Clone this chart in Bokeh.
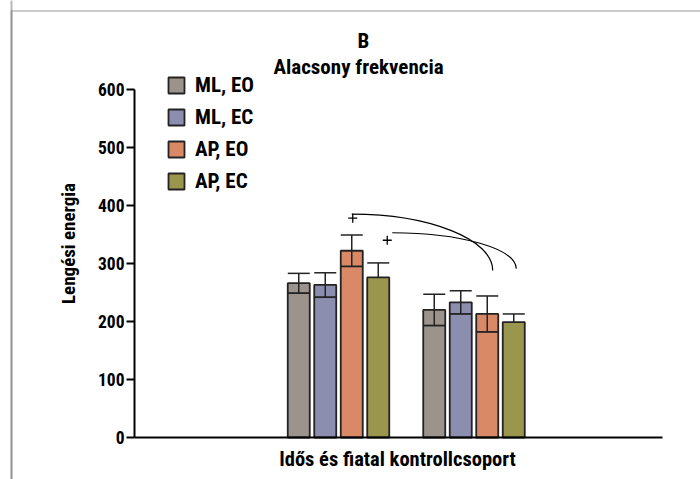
import math
from bokeh.plotting import figure
from bokeh.models import (Range1d, Label, Legend, LegendItem, FixedTicker,
                          BoxAnnotation, LinearAxis)
from bokeh.embed import file_html
from bokeh.resources import INLINE

# ---- data -------------------------------------------------------------
group_pos = [1, 2]
series_names = ["ML, EO", "ML, EC", "AP, EO", "AP, EC"]
ml_eo = [266, 220]
ml_ec = [263, 233]
ap_eo = [322, 213]
ap_ec = [276, 199]
ml_eo_err = [17, 27]
ml_ec_err = [21, 20]
ap_eo_err = [27, 31]
ap_ec_err = [25, 14]
y_ticks = [0, 100, 200, 300, 400, 500, 600]
title_letter = "B"
title_text = "Alacsony frekvencia"
x_label = "Idős és fiatal kontrollcsoport"
y_label = "Lengési energia"
sig_series = [2, 3]

means = [ml_eo, ml_ec, ap_eo, ap_ec]
errs = [ml_eo_err, ml_ec_err, ap_eo_err, ap_ec_err]

# ---- style ------------------------------------------------------------
FONT = "Roboto Condensed, DejaVu Sans Condensed, sans-serif"
colors = ["#9c948c", "#8c8eb0", "#d98966", "#9b964e"]
edge = "#232323"
show_lower = [True, True, True, False]

W, H = 700, 479
AX_LEFT, AX_RIGHT, AX_TOP, AX_BOTTOM = 134, 662, 89, 437
PX_PER_GROUP = 135.5
PX_PER_UNIT = (AX_BOTTOM - AX_TOP) / 600.0
pitch = 26.5 / PX_PER_GROUP
bar_w = 22 / PX_PER_GROUP
offsets = [(i - 1.5) * pitch for i in range(4)]


def xd(px):
    return 1 + (px - 338) / PX_PER_GROUP


def yd(py):
    return (AX_BOTTOM - py) / PX_PER_UNIT


x_per_px = 1 / PX_PER_GROUP
y_per_px = 1 / PX_PER_UNIT

p = figure(width=W, height=H, x_range=Range1d(xd(0), xd(W)),
           y_range=Range1d(yd(H), yd(0)),
           output_backend="svg", toolbar_location=None,
           x_axis_location=None, y_axis_location=None,
           min_border=0)
p.outline_line_color = None
p.grid.visible = False
p.background_fill_color = "white"
p.border_fill_color = "white"

yax = LinearAxis(fixed_location=xd(AX_LEFT), bounds=(0, 600),
                 ticker=FixedTicker(ticks=y_ticks))
yax.axis_line_width = 2
yax.axis_line_color = "black"
yax.major_tick_line_width = 2
yax.major_tick_out = 8
yax.major_tick_in = 0
yax.minor_tick_line_color = None
yax.major_label_standoff = 2
yax.major_label_text_font = FONT
yax.major_label_text_font_style = "bold"
yax.major_label_text_font_size = "17.5px"
yax.major_label_text_color = "black"
p.add_layout(yax, "left")

xax = LinearAxis(fixed_location=0, bounds=(xd(AX_LEFT), xd(AX_RIGHT)),
                 ticker=FixedTicker(ticks=[]))
xax.axis_line_width = 2
xax.axis_line_color = "black"
xax.major_tick_line_color = None
xax.minor_tick_line_color = None
xax.major_label_text_font_size = "0px"
p.add_layout(xax, "below")

# bars
items = []
for i, name in enumerate(series_names):
    xs = [g + offsets[i] for g in group_pos]
    r = p.vbar(x=xs, top=means[i], width=bar_w, bottom=0,
               fill_color=colors[i], line_color=edge, line_width=1.8)
    items.append(LegendItem(label=name, renderers=[r]))

# error bars
for i in range(4):
    xs = [g + offsets[i] for g in group_pos]
    ups = [m + e for m, e in zip(means[i], errs[i])]
    lows = [m - e if show_lower[i] else m for m, e in zip(means[i], errs[i])]
    p.segment(x0=xs, y0=lows, x1=xs, y1=ups, line_color=edge, line_width=1.5)
    p.segment(x0=[x - bar_w / 2 for x in xs], y0=ups,
              x1=[x + bar_w / 2 for x in xs], y1=ups,
              line_color=edge, line_width=1.5)
    if show_lower[i]:
        p.segment(x0=[x - bar_w / 2 for x in xs], y0=lows,
                  x1=[x + bar_w / 2 for x in xs], y1=lows,
                  line_color=edge, line_width=1.8)

# significance arcs between the groups (quarter ellipses) with "+" marks
start_dx_px = [0, 14]
start_rise = [36, 52]
end_dx_px = [5.5, 2.5]
end_rise = [44, 78]
mark_dx_px = [1, -5]
mark_dy_px = [-4, -7.5]
k = 0.5523
mark_x, mark_y = [], []
for j, s in enumerate(sig_series):
    xs0 = group_pos[0] + offsets[s] + start_dx_px[j] * x_per_px
    ys0 = means[s][0] + errs[s][0] + start_rise[j]
    xe = group_pos[1] + offsets[s] + end_dx_px[j] * x_per_px
    ye = means[s][1] + errs[s][1] + end_rise[j]
    rx, ry = xe - xs0, ys0 - ye
    p.bezier(x0=[xs0], y0=[ys0], x1=[xe], y1=[ye],
             cx0=[xs0 + k * rx], cy0=[ys0], cx1=[xe], cy1=[ye + k * ry],
             line_color="black", line_width=1.2)
    mark_x.append(xs0 + mark_dx_px[j] * x_per_px)
    mark_y.append(ys0 + mark_dy_px[j] * y_per_px)
p.scatter(x=mark_x, y=mark_y, marker="cross", size=9,
          line_color="black", line_width=1.3)

# legend
legend = Legend(items=items, location=(166, H - 192.5),
                glyph_width=20, glyph_height=20, label_height=20,
                spacing=8, padding=0, margin=0, label_standoff=9,
                border_line_color=None, background_fill_alpha=0,
                label_text_font=FONT, label_text_font_style="bold",
                label_text_font_size="21px", label_text_color="black")
p.add_layout(legend)


def add_label(txt, x, y, size, angle=0):
    # x, y: visual centre of the text in canvas pixels
    p.add_layout(Label(x=x, y=y, x_units="canvas", y_units="canvas",
                       text=txt, text_align="center", text_baseline="middle",
                       angle=angle, text_font=FONT, text_font_style="bold",
                       text_font_size=size, text_color="black"))


add_label(title_letter, 363, 40, "21px")
add_label(title_text, 358, 66, "21px")
add_label(x_label, 397, 458, "20.5px")
add_label(y_label, 68, 243, "19px", angle=math.pi / 2)

# surrounding frame lines
p.add_layout(BoxAnnotation(left=xd(11), right=xd(W + 20), top=yd(10.5), bottom=yd(H + 20),
                           fill_alpha=0, line_color="#555555", line_width=2))
p.add_layout(BoxAnnotation(left=xd(11), right=xd(W + 20), top=yd(-20), bottom=yd(H + 20),
                           fill_alpha=0, line_color="#151515", line_width=2))

open("out.html", "w").write(file_html(p, INLINE))
